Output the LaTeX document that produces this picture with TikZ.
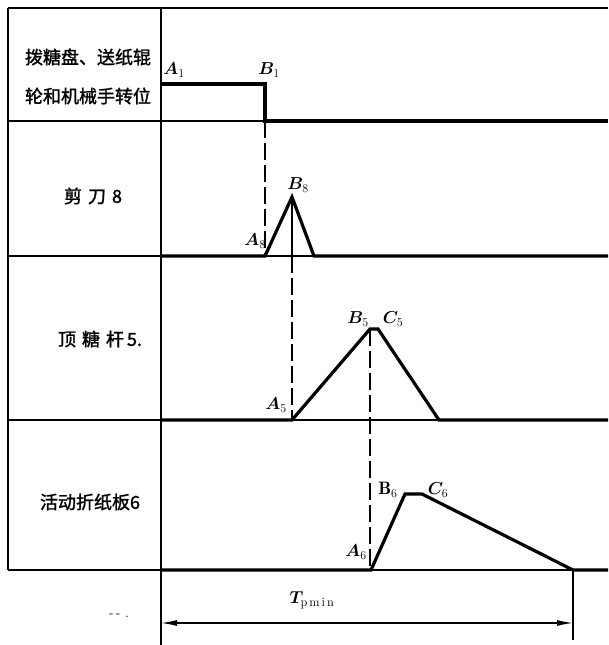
\documentclass[tikz,border=0pt]{standalone}
\usepackage{amsmath}
\usepackage{bm}
\usepackage{fontspec}
\newfontfamily\cjk[FakeBold=1.5]{Noto Sans CJK SC}
\usetikzlibrary{arrows.meta}
\begin{document}
\begin{tikzpicture}[x=1pt,y=-1pt,
  thin line/.style={line width=1.3pt},
  sig/.style={line width=3.2pt,line join=miter},
  dashline/.style={line width=1.2pt,dash pattern=on 17pt off 5pt},
  lab/.style={inner sep=0pt,font=\fontsize{18}{20}\selectfont},
  cjklab/.style={inner sep=0pt,font=\cjk\fontsize{18}{24}\selectfont,align=center}]
\useasboundingbox (0,0) rectangle (608,645);
% grid
\coordinate (tl) at (8,8); \coordinate (tr) at (608,8);
\coordinate (bl) at (8,570);
\coordinate (vt) at (161,8); \coordinate (vb) at (161,645);
\draw[thin line] (tl) -- (tr);
\draw[thin line] (tl) -- (bl);
\draw[thin line] (vt) -- (vb);
\foreach \y in {121,256,420,570} \draw[thin line] (8,\y) -- (608,\y);
% key points
\coordinate (A1) at (161,84); \coordinate (B1) at (265,84);
\coordinate (B1b) at (265,121); \coordinate (E1) at (608,121);
\coordinate (S2) at (161,256); \coordinate (A8) at (265,256);
\coordinate (B8) at (292,197); \coordinate (B8b) at (292,256);
\coordinate (D8) at (314,256); \coordinate (E2) at (608,256);
\coordinate (S3) at (161,420); \coordinate (A5) at (292,420);
\coordinate (B5) at (370,329); \coordinate (C5) at (378,329);
\coordinate (D5) at (439,420); \coordinate (E3) at (608,420);
\coordinate (S4) at (161,570); \coordinate (A6) at (371,570);
\coordinate (B6) at (405,494); \coordinate (C6) at (422,494);
\coordinate (D6) at (573,570); \coordinate (E4) at (608,570);
\coordinate (B5b) at (370,570);
\coordinate (D6b) at (573,640);
\coordinate (L) at (161,623); \coordinate (R) at (573,623);
% signals
\draw[sig] (A1) -- (B1) -- (B1b) -- (E1);
\draw[sig] (S2) -- (A8) -- (B8) -- (D8) -- (E2);
\draw[sig] (S3) -- (A5) -- (B5) -- (C5) -- (D5) -- (E3);
\draw[sig] (S4) -- (A6) -- (B6) -- (C6) -- (D6) -- (E4);
% guide lines
\draw[dashline] (B1b) -- (A8);
\draw[line width=1.2pt] (B8) -- (B8b);
\draw[dashline] (B8b) -- (A5);
\draw[dashline] (B5) -- (B5b);
\draw[thin line] (D6) -- (D6b);
\draw[thin line,{Latex[length=16pt,width=6pt]}-{Latex[length=16pt,width=6pt]}] (L) -- (R);
% point labels
\node[lab] (lA1) at (174,70) {$\bm{A}_1$};
\node[lab] (lB1) at (269,70) {$\bm{B}_1$};
\node[lab] (lB8) at (298,185) {$\bm{B}_8$};
\node[lab] (lA8) at (255,241) {$\bm{A}_8$};
\node[lab] (lA5) at (276,405) {$\bm{A}_5$};
\node[lab] (lB5) at (358,319) {$\bm{B}_5$};
\node[lab] (lC5) at (393,319) {$\bm{C}_5$};
\node[lab] (lB6) at (388,490) {$\mathbf{B}_6$};
\node[lab] (lC6) at (438,490) {$\bm{C}_6$};
\node[lab] (lA6) at (356,552) {$\bm{A}_6$};
\node[lab] (lT) at (312,600) {$\bm{T}_{\mathrm{p\,m\,i\,n}}$};
\node[inner sep=0pt,font=\fontsize{14}{16}\selectfont] (dots) at (119,616) {-\,-\,\,.};
% row labels
\node[cjklab] (r1a) at (88,57) {拨糖盘、送纸辊};
\node[cjklab] (r1b) at (88,96) {轮和机械手转位};
\node[cjklab] (r2) at (93,196) {剪\,\,刀\,\,8};
\node[cjklab] (r3) at (100,339) {顶\,\,糖\,\,杆\,5.};
\node[cjklab] (r4) at (90,502) {活动折纸板6};
\end{tikzpicture}
\end{document}
